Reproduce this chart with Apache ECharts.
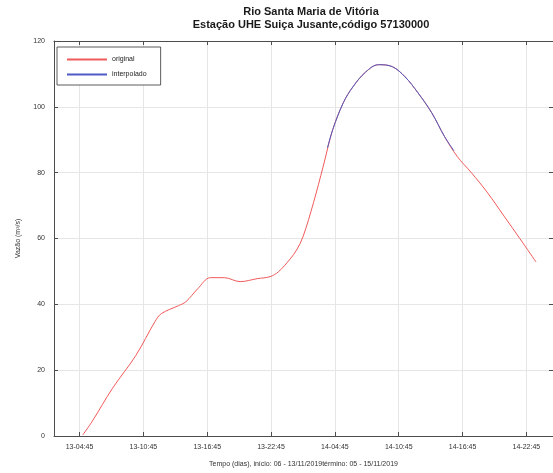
<!DOCTYPE html>
<html><head><meta charset="utf-8">
<script src="https://cdn.jsdelivr.net/npm/echarts@6/dist/echarts.min.js"></script>
<style>html,body{margin:0;padding:0;background:#fff}#c{width:553px;height:473px}</style>
</head><body><div id="c"></div>
<script>
// hours relative to 13-04:45
const originalHours = [0.3,1.2,3.1,5.3,7.1,7.7,9.3,10.0,11.1,12.3,13.6,15.1,16.7,17.9,18.7,19.8,20.4,21.0,22.0,22.9,23.8,24.8,25.7,26.9,28.1,29.4,30.6,31.8,33.1,34.3,35.5,36.8,38.3,39.9,41.4,42.9];
const originalValues = [0.3,4.5,14.5,24.5,34.8,37.2,39.6,40.8,44.7,48.1,48.1,46.9,47.8,48.4,49.9,53.8,56.5,60.5,71.0,81.9,93.1,101.3,106.1,110.6,112.8,112.2,109.1,104.3,98.2,91.0,84.9,80.1,74.1,66.8,59.9,52.9];
const interpHours = [23.3,23.8,24.8,25.7,26.9,28.1,29.4,30.6,31.8,33.1,34.3,35.2];
const interpValues = [87.5,93.1,101.3,106.1,110.6,112.8,112.2,109.1,104.3,98.2,91.0,86.6];
const xTickValues = [0,6,12,18,24,30,36,42];
const xTickLabels = ['13-04:45','13-10:45','13-16:45','13-22:45','14-04:45','14-10:45','14-16:45','14-22:45'];
const seriesNames = ['original','interpolado'];
const titleLines = ['Rio Santa Maria de Vitória','Estação UHE Suiça Jusante,código 57130000'];
const xName = 'Tempo (dias), início: 06 - 13/11/2019término: 05 - 15/11/2019';
const yName = 'Vazão (m³/s)';

const pair = (a,b)=>a.map((v,i)=>[v,b[i]]);
const chart = echarts.init(document.getElementById('c'));
const axisColor = '#4d4d4d';
const font = 'Liberation Sans, Arial, sans-serif';
const xMin = -2.4, xMax = 44.5;
const commonX = {
  type:'value', min:xMin, max:xMax,
  axisLine:{show:true, onZero:false, lineStyle:{color:axisColor, width:1}},
};
chart.setOption({
  animation:false,
  backgroundColor:'#fff',
  title:{text:titleLines.join('\n'), left:306, top:0, textAlign:'center',
    textStyle:{fontFamily:font, fontSize:11, fontWeight:'bold', color:'#1a1a1a', lineHeight:13}},
  legend:{data:seriesNames, orient:'vertical', left:57, top:47, itemWidth:40, itemHeight:2, itemGap:8,
    icon:'rect', borderColor:'#333', borderWidth:0.8, padding:[9,14,7,10], backgroundColor:'#fff',
    textStyle:{fontFamily:font, fontSize:7, color:'#222'}},
  grid:{left:54, top:41, width:506, height:397},
  xAxis:[Object.assign({}, commonX, {
    position:'bottom',
    name:xName, nameLocation:'middle', nameGap:25,
    nameTextStyle:{fontFamily:font, fontSize:7, color:'#333'},
    axisTick:{show:true, inside:true, length:4, customValues:xTickValues, lineStyle:{color:axisColor}},
    axisLabel:{show:true, customValues:xTickValues, fontFamily:font, fontSize:7, color:'#333', margin:8,
      formatter:v=>xTickLabels[xTickValues.indexOf(Math.round(v))]||''},
    splitLine:{show:true, lineStyle:{color:'#e6e6e6', width:1}}
  }), Object.assign({}, commonX, {
    position:'top',
    axisTick:{show:true, inside:true, length:4, customValues:xTickValues, lineStyle:{color:axisColor}},
    axisLabel:{show:false}, splitLine:{show:false}
  })],
  yAxis:[{type:'value', min:0, max:120, interval:20, position:'left',
    name:yName, nameLocation:'middle', nameGap:32, nameRotate:90,
    nameTextStyle:{fontFamily:font, fontSize:7, color:'#333'},
    axisLine:{show:true, onZero:false, lineStyle:{color:axisColor}},
    axisTick:{show:true, inside:true, length:4, lineStyle:{color:axisColor}},
    axisLabel:{fontFamily:font, fontSize:7, color:'#333', margin:9},
    splitLine:{show:true, lineStyle:{color:'#e6e6e6', width:1}}
  },{type:'value', min:0, max:120, interval:20, position:'right',
    axisLine:{show:true, onZero:false, lineStyle:{color:axisColor}}, axisTick:{show:true, inside:true, length:4},
    axisLabel:{show:false}, splitLine:{show:false}}],
  series:[
    {name:seriesNames[0], type:'line', data:pair(originalHours, originalValues), smooth:0.35,
      showSymbol:false, lineStyle:{color:'#f05a5a', width:1}, itemStyle:{color:'#f05a5a'}},
    {name:seriesNames[1], type:'line', data:pair(interpHours, interpValues), smooth:0.35,
      showSymbol:false, lineStyle:{color:'#4f5bc4', width:1}, itemStyle:{color:'#4f5bc4'}, z:3}
  ]
});
</script></body></html>
